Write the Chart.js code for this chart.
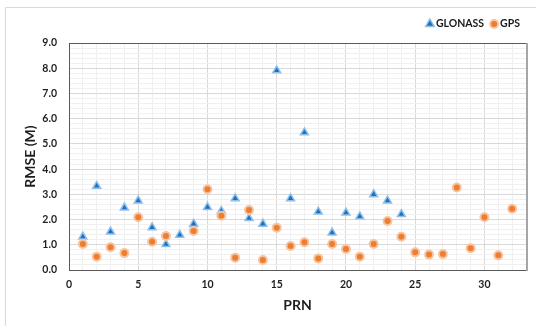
<!DOCTYPE html>
<html>
<head>
<meta charset="utf-8">
<title>RMSE by PRN</title>
<script src="https://cdn.jsdelivr.net/npm/chart.js@4.4.1/dist/chart.umd.min.js"></script>
<style>
  html, body { margin: 0; padding: 0; background: #fff; }
</style>
</head>
<body>
<canvas id="rmseChart" width="536" height="326"></canvas>
<script>
// Satellite numbers (PRN) for each constellation
const prnGlonass = [1, 2, 3, 4, 5, 6, 7, 8, 9, 10, 11, 12, 13, 14, 15, 16, 17, 18, 19, 20, 21, 22, 23, 24];
const prnGps = [1, 2, 3, 4, 5, 6, 7, 8, 9, 10, 11, 12, 13, 14, 15, 16, 17, 18, 19, 20, 21, 22, 23, 24, 25, 26, 27, 28, 29, 30, 31, 32];

// RMSE in metres (PRN 8 has no GPS value)
const rmseGlonass = [1.32, 3.33, 1.52, 2.47, 2.75, 1.69, 1.02, 1.39, 1.83, 2.49, 2.34, 2.84,
                     2.05, 1.83, 7.91, 2.84, 5.45, 2.31, 1.48, 2.27, 2.12, 3.00, 2.75, 2.21];
const rmseGps = [1.03, 0.53, 0.90, 0.67, 2.09, 1.12, 1.35, null, 1.55, 3.20, 2.15, 0.49,
                 2.38, 0.40, 1.68, 0.95, 1.10, 0.46, 1.03, 0.83, 0.53, 1.03, 1.94, 1.32,
                 0.70, 0.61, 0.63, 3.27, 0.86, 2.09, 0.58, 2.43];

// labelled ticks; the rest are minor gridlines
const xTickLabels = [0, 5, 10, 15, 20, 25, 30];
const yTickLabels = [0, 1, 2, 3, 4, 5, 6, 7, 8, 9];

const toPoints = (xs, ys) => xs.map((x, i) => ({ x: x, y: ys[i] })).filter(p => p.y !== null);

const tickFont = { family: 'Lato', size: 10.5, weight: 'bold' };
const titleFont = { family: 'Lato', size: 14, weight: 'bold' };

// chart frame, plot border and the legend row
const chartDecor = {
    id: 'chartDecor',
    beforeDraw(chart) {
        const ctx = chart.ctx;
        ctx.save();
        ctx.strokeStyle = '#d9d9d9';
        ctx.lineWidth = 1;
        ctx.beginPath();
        ctx.moveTo(5.5, 340);
        ctx.lineTo(5.5, 7.5);
        ctx.lineTo(560, 7.5);
        ctx.stroke();
        ctx.restore();
    },
    beforeDatasetsDraw(chart) {
        const { ctx, chartArea: a } = chart;
        ctx.save();
        ctx.fillStyle = '#a6a6a6';
        ctx.fillRect(Math.round(a.right), a.top, 2, a.bottom - a.top + 1);
        ctx.strokeStyle = '#595959';
        ctx.lineWidth = 1;
        ctx.beginPath();
        ctx.moveTo(a.left, Math.round(a.top) + 0.5);
        ctx.lineTo(a.right, Math.round(a.top) + 0.5);
        ctx.stroke();
        ctx.restore();
    },
    afterDraw(chart) {
        const ctx = chart.ctx;
        const y = 24;
        ctx.save();
        ctx.font = 'bold 10.5px Lato';
        ctx.textBaseline = 'middle';
        ctx.textAlign = 'left';
        // lay the items out right to left, ending near the plot's right edge
        let x = chart.chartArea.right - 6;
        const items = chart.data.datasets.map(ds => ds).reverse();
        items.forEach(ds => {
            const w = ctx.measureText(ds.label).width;
            x -= w;
            ctx.fillStyle = '#1a1a1a';
            ctx.fillText(ds.label, x, y);
            const cx = x - 6;
            ctx.fillStyle = ds.backgroundColor;
            ctx.strokeStyle = ds.borderColor;
            ctx.lineWidth = ds.borderWidth;
            ctx.beginPath();
            if (ds.pointStyle === 'triangle') {
                ctx.moveTo(cx, y - 5);
                ctx.lineTo(cx + 4.3, y + 2.5);
                ctx.lineTo(cx - 4.3, y + 2.5);
                ctx.closePath();
            } else {
                ctx.arc(cx, y, 4, 0, Math.PI * 2);
            }
            ctx.fill();
            ctx.stroke();
            x = cx - 10;
        });
        ctx.restore();
    }
};

new Chart(document.getElementById('rmseChart'), {
    type: 'scatter',
    data: {
        datasets: [{
            label: 'GLONASS',
            data: toPoints(prnGlonass, rmseGlonass),
            pointStyle: 'triangle',
            pointRadius: 4.6,
            pointHoverRadius: 4.6,
            backgroundColor: '#1f70c1',
            borderColor: '#8fc0ea',
            borderWidth: 1.5,
            order: 1
        }, {
            label: 'GPS',
            data: toPoints(prnGps, rmseGps),
            pointStyle: 'circle',
            pointRadius: 4,
            pointHoverRadius: 4,
            backgroundColor: '#ed7d31',
            borderColor: '#f6c4a0',
            borderWidth: 2,
            order: 0
        }]
    },
    options: {
        responsive: false,
        animation: false,
        layout: { padding: { top: 43, right: 10, bottom: 0, left: 0 } },
        plugins: {
            legend: { display: false },
            tooltip: { enabled: false }
        },
        scales: {
            x: {
                type: 'linear',
                min: 0,
                max: 33,
                afterFit(scale) { scale.height = 56; },
                border: { display: true, color: '#595959', width: 1 },
                grid: {
                    drawTicks: false,
                    color: ctx => (ctx.tick && ctx.tick.value % 5 === 0) ? '#d9d9d9' : '#f0f0f0'
                },
                ticks: {
                    stepSize: 1,
                    autoSkip: false,
                    maxTicksLimit: 60,
                    maxRotation: 0,
                    padding: 8,
                    color: '#1f1f1f',
                    font: tickFont,
                    callback: v => xTickLabels.includes(v) ? String(v) : ''
                },
                title: {
                    display: true,
                    text: 'PRN',
                    color: '#1f1f1f',
                    font: titleFont,
                    padding: { top: 0, bottom: 12.6 }
                }
            },
            y: {
                min: 0,
                max: 9,
                afterFit(scale) { scale.width = 69; },
                border: { display: true, color: '#595959', width: 1 },
                grid: {
                    drawTicks: false,
                    color: ctx => {
                        const v = ctx.tick ? Math.round(ctx.tick.value * 10) / 10 : 0;
                        return yTickLabels.includes(v) ? '#d9d9d9' : '#f0f0f0';
                    }
                },
                ticks: {
                    stepSize: 0.2,
                    autoSkip: false,
                    maxTicksLimit: 60,
                    padding: 12,
                    color: '#1f1f1f',
                    font: tickFont,
                    callback: v => {
                        const r = Math.round(v * 10) / 10;
                        return yTickLabels.includes(r) ? r.toFixed(1) : '';
                    }
                },
                title: {
                    display: true,
                    text: 'RMSE (M)',
                    color: '#1f1f1f',
                    font: titleFont,
                    padding: { top: 21.6, bottom: 0 }
                }
            }
        }
    },
    plugins: [chartDecor]
});
</script>
</body>
</html>
